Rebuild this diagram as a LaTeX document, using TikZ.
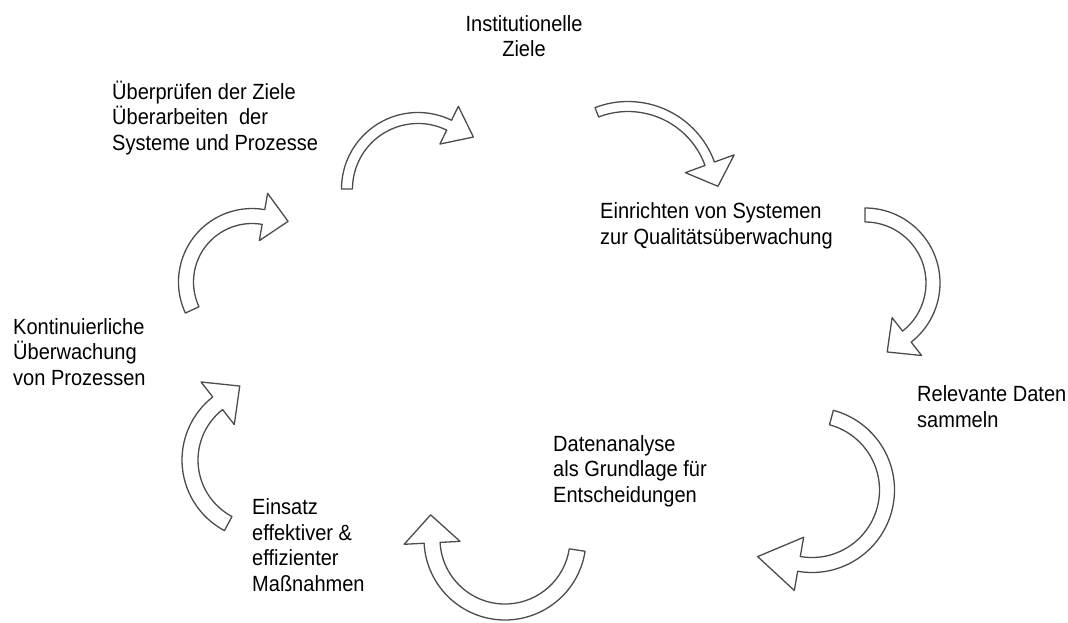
\documentclass[tikz,border=0pt]{standalone}
\usepackage{fontspec}
\setmainfont{Liberation Sans}[FakeStretch=0.91]
\usetikzlibrary{calc}

\tikzset{
  cyclearrow/.style={draw=black!70, line width=1.3pt, fill=white, line join=round},
  steplabel/.style={align=left, anchor=base west, inner sep=0pt, font=\fontsize{22}{25.5}\selectfont},
}

% curved block arrow: centre x, centre y, radius, start, end, half width, head half width, head length
\newcommand{\cyclearrow}[8]{%
  \pgfmathsetmacro\ro{#3+#6}%
  \pgfmathsetmacro\ri{#3-#6}%
  \pgfmathsetmacro\hro{#3+#7}%
  \pgfmathsetmacro\hri{#3-#7}%
  \pgfmathsetmacro\tang{#5+90*sign(#5-#4)}%
  \draw[cyclearrow] ($(#1,#2)+(#4:\ro)$) arc[start angle=#4, end angle=#5, radius=\ro]
    -- ($(#1,#2)+(#5:\hro)$) -- ($(#1,#2)+(#5:#3)+(\tang:#8)$)
    -- ($(#1,#2)+(#5:\hri)$) -- ($(#1,#2)+(#5:\ri)$)
    arc[start angle=#5, end angle=#4, radius=\ri] -- cycle;
}

\begin{document}
\begin{tikzpicture}[x=1pt, y=-1pt]
  \useasboundingbox (0,0) rectangle (1068,622);

  % Labels (anchored at the baseline of their last line)
  \node[steplabel, align=center, anchor=base] (goals) at (524,56.7) {Institutionelle\\Ziele};
  \node[steplabel] (review) at (112,150) {Überprüfen der Ziele\\Überarbeiten\ \ der\\Systeme und Prozesse};
  \node[steplabel] (setup) at (600,244) {Einrichten von Systemen\\zur Qualitätsüberwachung};
  \node[steplabel] (monitor) at (13,385) {Kontinuierliche\\Überwachung\\von Prozessen};
  \node[steplabel] (collect) at (917,427) {Relevante Daten\\sammeln};
  \node[steplabel] (analyse) at (553,502) {Datenanalyse\\als Grundlage für\\Entscheidungen};
  \node[steplabel] (measures) at (252,591) {Einsatz\\effektiver \&\\effizienter\\Maßnahmen};

  % Arrows
  \cyclearrow{418}{189}{71}{180}{296}{5.5}{21}{27}
  \cyclearrow{628}{193.5}{87}{249}{340}{5}{26}{24}
  \cyclearrow{865}{283}{68}{270}{412}{7}{24}{25}
  \cyclearrow{812}{490}{75}{285}{460}{7.5}{27}{42}
  \cyclearrow{505}{539}{73}{8.7}{177}{8}{28}{28}
  \cyclearrow{262}{460}{72}{118}{232}{8}{27}{28}
  \cyclearrow{252}{282}{66}{155}{280}{7.5}{24}{25}
\end{tikzpicture}
\end{document}
